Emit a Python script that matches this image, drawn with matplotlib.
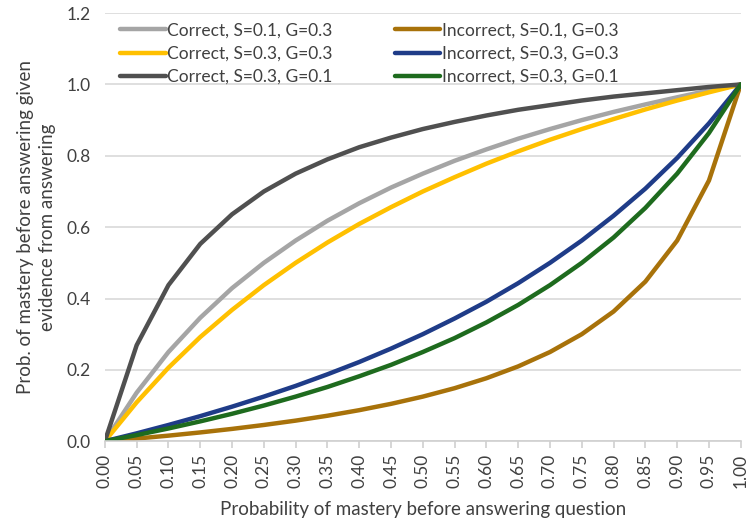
import matplotlib
matplotlib.use("Agg")
import matplotlib.pyplot as plt

plt.rcParams['font.family'] = ['Lato', 'DejaVu Sans']

x_labels = ["0.00", "0.05", "0.10", "0.15", "0.20", "0.25", "0.30", "0.35", "0.40", "0.45",
            "0.50", "0.55", "0.60", "0.65", "0.70", "0.75", "0.80", "0.85", "0.90", "0.95", "1.00"]

correct_s01_g03 = [0, 0.136, 0.25, 0.346, 0.429, 0.5, 0.5625, 0.618, 0.667, 0.711, 0.75,
                   0.786, 0.818, 0.848, 0.875, 0.9, 0.923, 0.944, 0.964, 0.983, 1.0]
correct_s03_g03 = [0, 0.109, 0.206, 0.292, 0.368, 0.4375, 0.5, 0.557, 0.609, 0.656, 0.7,
                   0.740, 0.778, 0.8125, 0.845, 0.875, 0.903, 0.930, 0.955, 0.978, 1.0]
correct_s03_g01 = [0, 0.269, 0.4375, 0.553, 0.636, 0.7, 0.75, 0.790, 0.824, 0.851, 0.875,
                   0.895, 0.913, 0.929, 0.942, 0.955, 0.966, 0.975, 0.984, 0.993, 1.0]
incorrect_s01_g03 = [0, 0.0075, 0.0156, 0.0246, 0.0345, 0.0455, 0.0577, 0.0714, 0.087, 0.1047, 0.125,
                     0.1486, 0.1765, 0.2097, 0.25, 0.3, 0.3636, 0.4474, 0.5625, 0.7308, 1.0]
incorrect_s03_g03 = [0, 0.022, 0.0455, 0.0703, 0.0968, 0.125, 0.155, 0.1875, 0.222, 0.2596, 0.3,
                     0.344, 0.391, 0.443, 0.5, 0.5625, 0.632, 0.708, 0.794, 0.891, 1.0]
incorrect_s03_g01 = [0, 0.0172, 0.0357, 0.0556, 0.0769, 0.1, 0.125, 0.152, 0.182, 0.214, 0.25,
                     0.289, 0.333, 0.382, 0.4375, 0.5, 0.571, 0.654, 0.75, 0.864, 1.0]

series = [
    ("Correct, S=0.1, G=0.3", correct_s01_g03, "#A5A5A5"),
    ("Incorrect, S=0.1, G=0.3", incorrect_s01_g03, "#A8720A"),
    ("Correct, S=0.3, G=0.3", correct_s03_g03, "#FFC000"),
    ("Incorrect, S=0.3, G=0.3", incorrect_s03_g03, "#1F3C88"),
    ("Correct, S=0.3, G=0.1", correct_s03_g01, "#505050"),
    ("Incorrect, S=0.3, G=0.1", incorrect_s03_g01, "#1E6B1E"),
]

fig = plt.figure(figsize=(7.49, 5.24), dpi=100)
ax = fig.add_axes([0.140, 0.158, 0.849, 0.817])

xs = list(range(len(x_labels)))
handles = {}
for name, vals, col in series:
    h, = ax.plot(xs, vals, color=col, lw=3.2, label=name, solid_capstyle='round')
    handles[name] = h

ax.set_xlim(0, len(x_labels) - 1)
ax.set_ylim(0, 1.2)
ax.set_yticks([0, 0.2, 0.4, 0.6, 0.8, 1.0, 1.2])
ax.set_yticklabels(["0.0", "0.2", "0.4", "0.6", "0.8", "1.0", "1.2"])
ax.set_xticks(xs)
ax.set_xticklabels(x_labels, rotation=90)
ax.grid(axis='y', color='#D9D9D9', lw=1.2)
ax.set_axisbelow(True)
for s in ['top', 'right', 'left']:
    ax.spines[s].set_visible(False)
ax.spines['bottom'].set_color('#D0D0D0')
ax.spines['bottom'].set_linewidth(1.2)
ax.tick_params(axis='y', length=0, pad=10, labelsize=12.5, colors='#404040')
ax.tick_params(axis='x', length=5, color='#D0D0D0', width=1.2, pad=4, labelsize=12.5, colors='#404040')

ax.set_xlabel("Probability of mastery before answering question", fontsize=13.5, color='#404040', labelpad=9)
ax.set_ylabel("Prob. of mastery before answering given\nevidence from answering", fontsize=13.5,
              color='#404040', labelpad=8, linespacing=1.3)

order = ["Correct, S=0.1, G=0.3", "Correct, S=0.3, G=0.3", "Correct, S=0.3, G=0.1",
         "Incorrect, S=0.1, G=0.3", "Incorrect, S=0.3, G=0.3", "Incorrect, S=0.3, G=0.1"]
leg = ax.legend([handles[n] for n in order], order, ncol=2, frameon=False,
                loc='upper left', bbox_to_anchor=(0.0, 1.015), fontsize=12.5,
                handlelength=2.6, handletextpad=0.1, columnspacing=3.6, labelspacing=0.42)
for t in leg.get_texts():
    t.set_color('#404040')

fig.savefig("out.png", dpi=100)
